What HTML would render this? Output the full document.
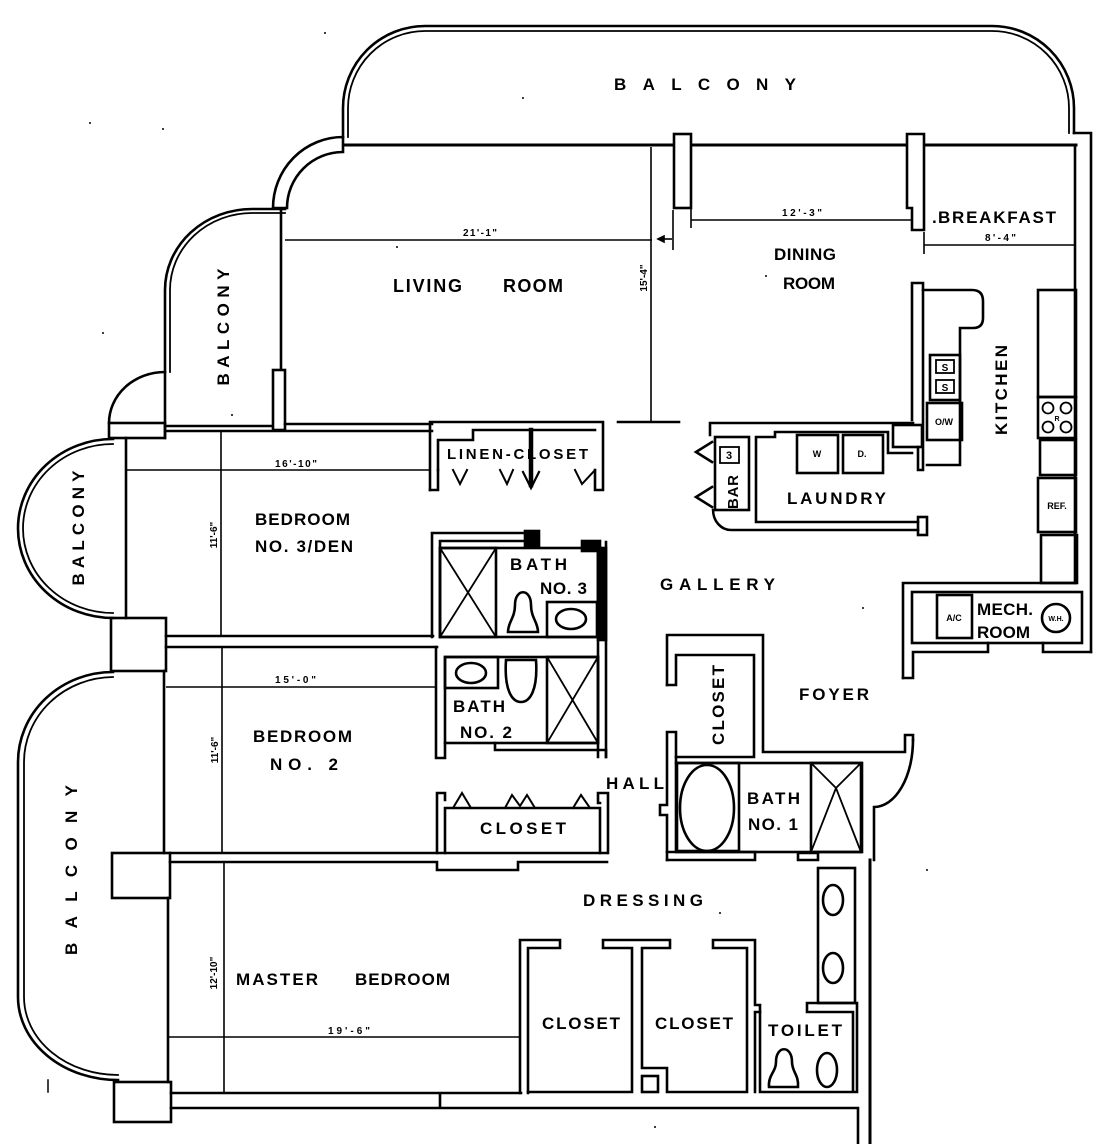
<!DOCTYPE html>
<html><head><meta charset="utf-8"><style>
html,body{margin:0;padding:0;background:#fff;}
svg{display:block;}
text{font-family:"Liberation Sans",Arial,sans-serif;font-weight:bold;fill:#000;}
</style></head><body>
<svg width="1116" height="1144" viewBox="0 0 1116 1144" xmlns="http://www.w3.org/2000/svg">
<rect width="1116" height="1144" fill="#fff"/>
<g fill="none" stroke="#000" stroke-width="2.6" stroke-linejoin="miter" stroke-linecap="square">

<!-- top balcony -->
<path d="M343,137 L343,108 A82,82 0 0 1 425,26 L992,26 A82,82 0 0 1 1074,108 L1074,133"/>
<path d="M348,137 L348,108 A77,77 0 0 1 425,31 L992,31 A77,77 0 0 1 1069,108 L1069,133" stroke-width="1.8"/>
<!-- building top wall -->
<path d="M343,145 L674,145 M691,145 L907,145 M924,145 L1076,145" stroke-width="3"/>
<rect x="674" y="134" width="17" height="74" fill="#fff"/>
<path d="M907,134 L924,134 L924,230 L912,230 L912,208 L907,208 Z" fill="#fff"/>
<!-- right exterior wall -->
<path d="M1074,133 L1091,133 L1091,652 M1075,145 L1075,583"/>

<!-- living arc wall -->
<path d="M343,137 A70,71 0 0 0 273,208 L287,208 A56,56 0 0 1 343,152 Z" fill="#fff"/>
<!-- left balcony -->
<path d="M285,209 L252,209 A87,81 0 0 0 165,290 L165,438"/>
<path d="M285,213 L252,213 A82,77 0 0 0 170,290 L170,372" stroke-width="1.8"/>
<path d="M165,372 A56,51 0 0 0 109,423"/>
<rect x="109" y="423" width="56" height="15"/>
<path d="M165,426 L273,426"/>
<path d="M281,209 L281,370"/>
<rect x="273" y="370" width="12" height="60" fill="#fff"/>
<path d="M285,424 L432,424 M166,431 L432,431"/>

<!-- round balcony -->
<path d="M113,439 A95,89.5 0 0 0 113,618"/>
<path d="M113,444 A90,84.5 0 0 0 113,613" stroke-width="1.8"/>
<path d="M126,438 L126,618"/>
<rect x="111" y="618" width="55" height="53"/>
<path d="M166,636 L433,636 M166,647 L437,647"/>
<path d="M164,671 L164,853"/>

<!-- lower balcony -->
<path d="M113,672 A95,90 0 0 0 18,762 L18,997 A100,83 0 0 0 118,1080"/>
<path d="M113,677 A90,85 0 0 0 24,762 L24,997 A94,78 0 0 0 118,1075" stroke-width="1.8"/>
<rect x="112" y="853" width="58" height="45"/>
<path d="M170,853 L607,853 M170,862 L437,862 L437,870 L518,870 L518,862 L607,862"/>
<path d="M168,898 L168,1082"/>
<rect x="114" y="1082" width="57" height="40"/>
<path d="M171,1093 L521,1093 M171,1108 L858,1108 L858,1144 M440,1093 L440,1108"/>
<path d="M870,860 L870,1144" stroke-width="3"/>
<path d="M48,1080 L48,1092" stroke-width="1.5"/>

<!-- dressing closets -->
<path d="M520,1093 L520,940 L560,940 L560,948 L528,948 L528,1093"/>
<path d="M528,1092 L632,1092 L632,948 L603,948 L603,940 L670,940 L670,948 L642,948 L642,1068 L667,1068 L667,1092 L747,1092 L747,948 L713,948 L713,940 L755,940 L755,1005 L760,1005 L760,1012 L755,1012 L755,1092"/>
<rect x="642" y="1076" width="16" height="16"/>
<!-- toilet -->
<path d="M760,1012 L760,1092 L857,1092 L857,1003 L807,1003 L807,1012 L853,1012 L853,1092"/>
<path d="M769,1087 C768,1075 776,1072 776,1062 C776,1045 792,1045 792,1062 C792,1072 799,1075 798,1087 Z"/>
<ellipse cx="827" cy="1070" rx="10" ry="17"/>
<!-- vanity -->
<rect x="818" y="868" width="37" height="135"/>
<ellipse cx="833" cy="900" rx="10" ry="15"/>
<ellipse cx="833" cy="968" rx="10" ry="15"/>

<!-- bath 1 -->
<path d="M667,852 L755,852 L755,860 L667,860 M798,853 L818,853 L818,860 L798,860 Z"/>
<rect x="676" y="763" width="186" height="89"/>
<rect x="677" y="763" width="62" height="88"/>
<ellipse cx="707" cy="808" rx="27" ry="43"/>
<rect x="811" y="763" width="50" height="89"/>
<path d="M811,763 L836,788 L861,852 M861,763 L836,788 L811,852" stroke-width="1.8"/>
<path d="M676,732 L667,732 L667,805 L660,805 L660,815 L667,815 L667,860 M676,732 L676,763"/>
<!-- hall closet / foyer -->
<path d="M667,685 L667,635 L763,635 L763,752 L905,752 L905,735 L913,735 L913,740"/>
<path d="M913,740 A39,67 0 0 1 874,807 L874,860"/>
<path d="M667,685 L676,685 L676,655 L754,655 L754,757 L676,757"/>

<!-- mech room -->
<path d="M903,678 L903,583 L1075,583"/>
<rect x="912" y="592" width="170" height="51"/>
<path d="M903,678 L913,678 L913,652 L988,652 L988,643 M1043,643 L1043,652 L1091,652"/>
<rect x="937" y="595" width="35" height="43"/>
<circle cx="1056" cy="618" r="14"/>

<!-- kitchen -->
<path d="M912,420 L912,283 L923,283 L923,470 L918,470 L918,447"/>
<path d="M923,290 L972,290 Q983,290 983,301 L983,318 Q983,328 973,328 L960,328 L960,465 L927,465"/>
<rect x="930" y="355" width="30" height="45"/>
<rect x="936" y="360" width="18" height="13" stroke-width="1.8"/>
<rect x="936" y="380" width="18" height="13" stroke-width="1.8"/>
<rect x="927" y="403" width="35" height="37"/>
<rect x="893" y="425" width="29" height="22"/>
<rect x="1038" y="290" width="38" height="107"/>
<rect x="1038" y="397" width="38" height="41"/>
<circle cx="1048" cy="408" r="5.5" stroke-width="1.8"/>
<circle cx="1066" cy="408" r="5.5" stroke-width="1.8"/>
<circle cx="1048" cy="427" r="5.5" stroke-width="1.8"/>
<circle cx="1066" cy="427" r="5.5" stroke-width="1.8"/>
<rect x="1040" y="440" width="36" height="35"/>
<rect x="1038" y="478" width="38" height="54"/>
<rect x="1041" y="535" width="36" height="48"/>

<!-- laundry / bar -->
<path d="M618,422 L679,422"/>
<path d="M710,435 L710,423 L913,423"/>
<rect x="715" y="437" width="34" height="73"/>
<rect x="720" y="447" width="19" height="16" stroke-width="1.8"/>
<path d="M712,442 L696,452 L712,462 M712,487 L696,497 L712,507"/>
<path d="M713,510 A18,20 0 0 0 731,530 L918,530"/>
<rect x="918" y="517" width="9" height="18"/>
<path d="M756,522 L756,437 L775,437 L775,432 L888,432 L888,453 L912,453 M756,522 L918,522"/>
<rect x="797" y="435" width="41" height="38"/>
<rect x="843" y="435" width="40" height="38"/>

<!-- linen closet -->
<path d="M430,490 L430,422 L603,422 L603,490 L595,490 L595,470"/>
<path d="M438,470 L438,490 L430,490"/>
<path d="M438,470 L438,440 L473,440 L473,430 L595,430"/>
<path d="M453,470 L460,484 L467,470 M500,470 L507,484 L513,470 M575,470 L582,484 L595,470" stroke-width="2"/>
<path d="M531,430 L531,485" stroke-width="4.5"/>
<path d="M523,472 L531,488 L539,472" stroke-width="2.2"/>

<!-- bath 3 -->
<path d="M432,637 L432,533 L537,533 M440,637 L440,541 L530,541"/>
<rect x="525" y="531" width="14" height="16" fill="#000"/>
<rect x="582" y="541" width="18" height="10" fill="#000"/>
<rect x="440" y="548" width="158" height="89"/>
<rect x="440" y="548" width="56" height="89"/>
<path d="M440,548 L496,637 M496,548 L440,637" stroke-width="1.8"/>
<path d="M508,632 C508,622 515,618 515,605 C515,588 531,588 531,605 C531,618 538,622 538,632 Z"/>
<rect x="547" y="602" width="50" height="35"/>
<ellipse cx="571" cy="619" rx="15" ry="10"/>
<path d="M598,542 L598,757 M606,542 L606,757"/>
<rect x="598" y="548" width="8" height="92" fill="#000"/>

<!-- bath 2 -->
<path d="M436,647 L436,758 L445,758 L445,743"/>
<rect x="445" y="657" width="153" height="86"/>
<rect x="445" y="657" width="53" height="31"/>
<ellipse cx="471" cy="673" rx="15" ry="10"/>
<path d="M506,660 C504,690 512,702 521,702 C530,702 538,690 536,660 Z"/>
<rect x="547" y="657" width="51" height="86"/>
<path d="M547,657 L598,743 M598,657 L547,743" stroke-width="1.8"/>
<path d="M495,743 L495,750 L606,750 L606,757"/>

<!-- bedroom 2 closet -->
<path d="M445,853 L445,808 L600,808 L600,853"/>
<path d="M437,853 L437,793 L445,793 L445,800"/>
<path d="M608,853 L608,793 L598,793 L598,803 L600,803"/>
<path d="M453,808 L462,793 L471,808 M505,808 L512,795 L520,806 L527,795 L535,808 M573,808 L581,795 L590,808" stroke-width="2"/>
</g>

<!-- dimension lines -->
<g fill="none" stroke="#000" stroke-width="1.6">
<path d="M285,240 L652,240"/>
<path d="M651,147 L651,422"/>
<path d="M672,239 L660,239"/>
<path d="M658,239 L664,236 L664,242 Z" fill="#000"/>
<path d="M673,210 L673,250 M691,208 L691,228"/>
<path d="M691,220 L912,220"/>
<path d="M924,245 L1075,245 M924,232 L924,254"/>
<path d="M126,470 L431,470"/>
<path d="M221,431 L221,636"/>
<path d="M166,687 L436,687"/>
<path d="M222,647 L222,853"/>
<path d="M224,862 L224,1093"/>
<path d="M168,1037 L520,1037"/>
</g>

<!-- labels -->
<g font-size="18">
<text x="614" y="90" font-size="17" textLength="182" lengthAdjust="spacing">BALCONY</text>
<text x="393" y="292" textLength="69" lengthAdjust="spacing">LIVING</text>
<text x="503" y="292" textLength="60" lengthAdjust="spacing">ROOM</text>
<text x="774" y="260" font-size="17" textLength="62" lengthAdjust="spacing">DINING</text>
<text x="783" y="289" font-size="17" textLength="52" lengthAdjust="spacing">ROOM</text>
<text x="932" y="223" font-size="17">.</text>
<text x="938" y="223" font-size="17" textLength="118" lengthAdjust="spacing">BREAKFAST</text>
<text transform="translate(1007,390) rotate(-90)" text-anchor="middle" font-size="17" textLength="90" lengthAdjust="spacing">KITCHEN</text>
<text transform="translate(229,327) rotate(-90)" text-anchor="middle" font-size="17" textLength="117" lengthAdjust="spacing">BALCONY</text>
<text transform="translate(84,528) rotate(-90)" text-anchor="middle" font-size="17" textLength="115" lengthAdjust="spacing">BALCONY</text>
<text transform="translate(77,870) rotate(-90)" text-anchor="middle" font-size="17" textLength="170" lengthAdjust="spacing">BALCONY</text>
<text x="255" y="525" font-size="17" textLength="95" lengthAdjust="spacing">BEDROOM</text>
<text x="255" y="552" font-size="17" textLength="98" lengthAdjust="spacing">NO. 3/DEN</text>
<text x="447" y="459" font-size="15" textLength="141" lengthAdjust="spacing">LINEN-CLOSET</text>
<text x="510" y="570" font-size="17" textLength="57" lengthAdjust="spacing">BATH</text>
<text x="540" y="594" font-size="17" textLength="47" lengthAdjust="spacing">NO. 3</text>
<text transform="translate(738,492) rotate(-90)" text-anchor="middle" font-size="15" textLength="34" lengthAdjust="spacing">BAR</text>
<text x="787" y="504" font-size="17" textLength="99" lengthAdjust="spacing">LAUNDRY</text>
<text x="660" y="590" font-size="17" textLength="115" lengthAdjust="spacing">GALLERY</text>
<text x="977" y="615" font-size="17" textLength="56" lengthAdjust="spacing">MECH.</text>
<text x="977" y="638" font-size="17" textLength="53" lengthAdjust="spacing">ROOM</text>
<text x="799" y="700" font-size="17" textLength="70" lengthAdjust="spacing">FOYER</text>
<text transform="translate(724,705) rotate(-90)" text-anchor="middle" font-size="17" textLength="80" lengthAdjust="spacing">CLOSET</text>
<text x="453" y="712" font-size="17" textLength="52" lengthAdjust="spacing">BATH</text>
<text x="460" y="738" font-size="17" textLength="52" lengthAdjust="spacing">NO. 2</text>
<text x="253" y="742" font-size="17" textLength="99" lengthAdjust="spacing">BEDROOM</text>
<text x="270" y="770" font-size="17" textLength="68" lengthAdjust="spacing">NO.  2</text>
<text x="606" y="789" font-size="17" textLength="58" lengthAdjust="spacing">HALL</text>
<text x="747" y="804" font-size="17" textLength="53" lengthAdjust="spacing">BATH</text>
<text x="748" y="830" font-size="17" textLength="50" lengthAdjust="spacing">NO. 1</text>
<text x="480" y="834" font-size="17" textLength="86" lengthAdjust="spacing">CLOSET</text>
<text x="583" y="906" font-size="17" textLength="120" lengthAdjust="spacing">DRESSING</text>
<text x="236" y="985" font-size="17" textLength="82" lengthAdjust="spacing">MASTER</text>
<text x="355" y="985" font-size="17" textLength="95" lengthAdjust="spacing">BEDROOM</text>
<text x="542" y="1029" font-size="17" textLength="78" lengthAdjust="spacing">CLOSET</text>
<text x="655" y="1029" font-size="17" textLength="78" lengthAdjust="spacing">CLOSET</text>
<text x="768" y="1036" font-size="17" textLength="74" lengthAdjust="spacing">TOILET</text>
</g>
<!-- small fixture labels -->
<g font-size="9" text-anchor="middle">
<text x="954" y="621">A/C</text>
<text x="1056" y="621" font-size="7">W.H.</text>
<text x="1057" y="509">REF.</text>
<text x="944" y="425">O/W</text>
<text x="817" y="457">W</text>
<text x="862" y="457">D.</text>
<text x="945" y="371" font-size="10">S</text>
<text x="945" y="391" font-size="10">S</text>
<text x="729" y="459" font-size="11">3</text>
<text x="1057" y="421" font-size="7">R</text>
</g>
<!-- dimension labels -->
<g font-size="10">
<text x="463" y="236" textLength="34" lengthAdjust="spacing">21'-1"</text>
<text x="782" y="216" textLength="40" lengthAdjust="spacing">12'-3"</text>
<text x="985" y="241" textLength="31" lengthAdjust="spacing">8'-4"</text>
<text transform="translate(647,278) rotate(-90)" text-anchor="middle">15'-4"</text>
<text x="275" y="467" textLength="42" lengthAdjust="spacing">16'-10"</text>
<text transform="translate(217,535) rotate(-90)" text-anchor="middle">11'-6"</text>
<text x="275" y="683" textLength="41" lengthAdjust="spacing">15'-0"</text>
<text transform="translate(218,750) rotate(-90)" text-anchor="middle">11'-6"</text>
<text transform="translate(217,973) rotate(-90)" text-anchor="middle">12'-10"</text>
<text x="328" y="1034" textLength="42" lengthAdjust="spacing">19'-6"</text>
</g>
<!-- specks -->
<g fill="#000">
<circle cx="325" cy="33" r="1"/><circle cx="90" cy="123" r="1"/><circle cx="163" cy="129" r="1"/>
<circle cx="103" cy="333" r="1"/><circle cx="397" cy="247" r="1"/><circle cx="523" cy="98" r="1"/>
<circle cx="766" cy="276" r="1"/><circle cx="232" cy="415" r="1"/><circle cx="720" cy="913" r="1"/>
<circle cx="927" cy="870" r="1"/><circle cx="655" cy="1127" r="1"/><circle cx="863" cy="608" r="1"/>
</g>
</svg>
</body></html>
